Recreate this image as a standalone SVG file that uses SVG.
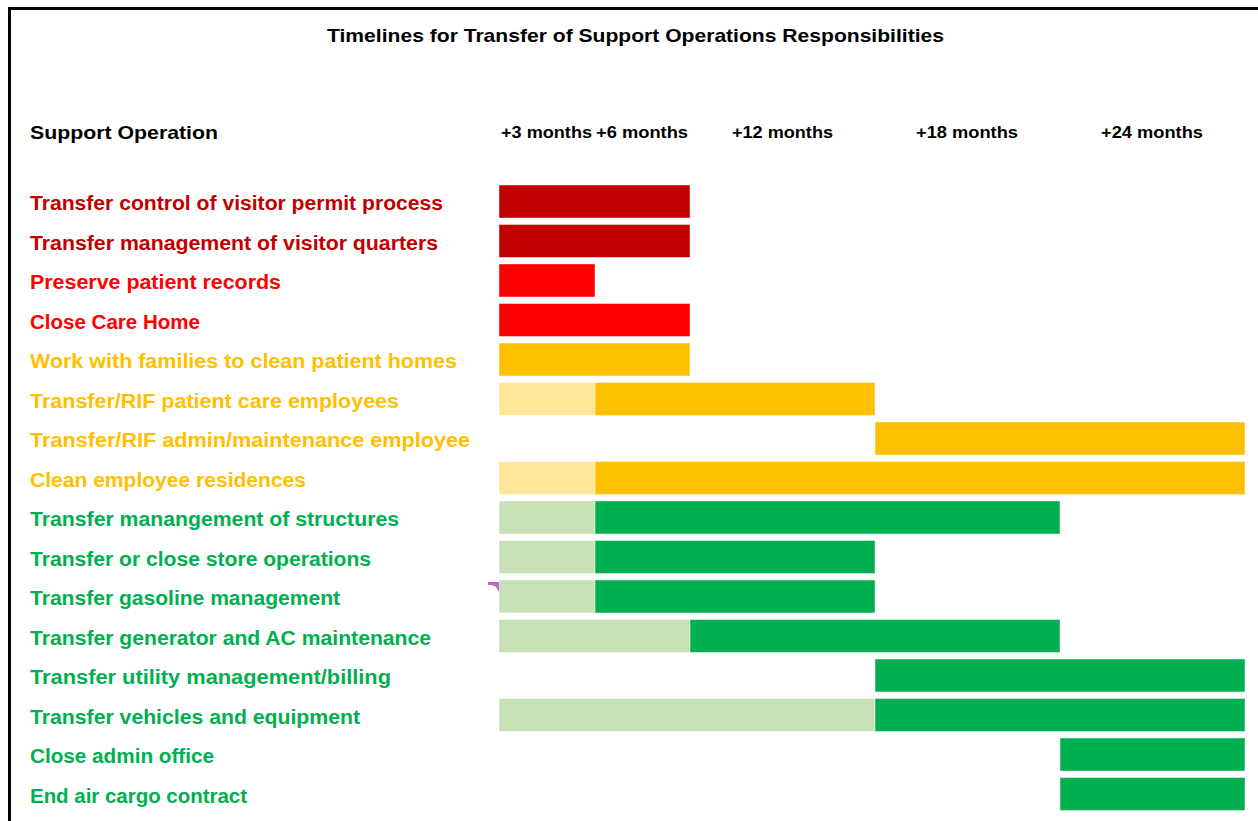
<svg xmlns="http://www.w3.org/2000/svg" width="1258" height="821" viewBox="0 0 1258 821">
<style>
text{font-family:"Liberation Sans",Arial,sans-serif;font-weight:bold}
.t{font-size:19px;fill:#000}
.h{font-size:16px;fill:#000}
.l{font-size:20px}
.dr{fill:#C00000}.r{fill:#FF0000}.y{fill:#FFC000}.g{fill:#00B050}
rect.b{stroke:#fff;stroke-opacity:0.45;stroke-width:1}
.bdr{fill:#C00000}.br{fill:#FF0000}.by{fill:#FFC000}.bly{fill:#FFE699}.bg{fill:#00B050}.blg{fill:#C8E0B5}
</style>
<rect x="0" y="0" width="1258" height="821" fill="#fff"/>
<g id="frame">
<line x1="9.5" y1="8.5" x2="1258" y2="8.5" stroke="#000" stroke-width="3"/>
<line x1="9.5" y1="7" x2="9.5" y2="821" stroke="#000" stroke-width="3"/>
</g>
<g id="header">
<text class="t" x="327" y="42" textLength="617" lengthAdjust="spacingAndGlyphs">Timelines for Transfer of Support Operations Responsibilities</text>
<text class="t" x="30" y="139" font-size="20" textLength="188" lengthAdjust="spacingAndGlyphs">Support Operation</text>
<text class="h" x="501" y="138" textLength="91" lengthAdjust="spacingAndGlyphs">+3 months</text>
<text class="h" x="596" y="138" textLength="92" lengthAdjust="spacingAndGlyphs">+6 months</text>
<text class="h" x="732" y="138" textLength="101" lengthAdjust="spacingAndGlyphs">+12 months</text>
<text class="h" x="916" y="138" textLength="102" lengthAdjust="spacingAndGlyphs">+18 months</text>
<text class="h" x="1101" y="138" textLength="102" lengthAdjust="spacingAndGlyphs">+24 months</text>
</g>
<g id="row0"><text class="l dr" x="30" y="210" textLength="413" lengthAdjust="spacingAndGlyphs">Transfer control of visitor permit process</text>
<rect class="b bdr" x="499" y="185" width="191" height="33"/></g>
<g id="row1"><text class="l dr" x="30" y="249.5" textLength="408" lengthAdjust="spacingAndGlyphs">Transfer management of visitor quarters</text>
<rect class="b bdr" x="499" y="224.5" width="191" height="33"/></g>
<g id="row2"><text class="l r" x="30" y="289" textLength="251" lengthAdjust="spacingAndGlyphs">Preserve patient records</text>
<rect class="b br" x="499" y="264" width="96" height="33"/></g>
<g id="row3"><text class="l r" x="30" y="328.5" textLength="170" lengthAdjust="spacingAndGlyphs">Close Care Home</text>
<rect class="b br" x="499" y="303.5" width="191" height="33"/></g>
<g id="row4"><text class="l y" x="30" y="368" textLength="427" lengthAdjust="spacingAndGlyphs">Work with families to clean patient homes</text>
<rect class="b by" x="499" y="343" width="191" height="33"/></g>
<g id="row5"><text class="l y" x="30" y="407.5" textLength="369" lengthAdjust="spacingAndGlyphs">Transfer/RIF patient care employees</text>
<rect class="b bly" x="499" y="382.5" width="96" height="33"/>
<rect class="b by" x="595" y="382.5" width="280" height="33"/></g>
<g id="row6"><text class="l y" x="30" y="447" textLength="440" lengthAdjust="spacingAndGlyphs">Transfer/RIF admin/maintenance employee</text>
<rect class="b by" x="875" y="422" width="370" height="33"/></g>
<g id="row7"><text class="l y" x="30" y="486.5" textLength="276" lengthAdjust="spacingAndGlyphs">Clean employee residences</text>
<rect class="b bly" x="499" y="461.5" width="96" height="33"/>
<rect class="b by" x="595" y="461.5" width="650" height="33"/></g>
<g id="row8"><text class="l g" x="30" y="526" textLength="369" lengthAdjust="spacingAndGlyphs">Transfer manangement of structures</text>
<rect class="b blg" x="499" y="501" width="96" height="33"/>
<rect class="b bg" x="595" y="501" width="465" height="33"/></g>
<g id="row9"><text class="l g" x="30" y="565.5" textLength="341" lengthAdjust="spacingAndGlyphs">Transfer or close store operations</text>
<rect class="b blg" x="499" y="540.5" width="96" height="33"/>
<rect class="b bg" x="595" y="540.5" width="280" height="33"/></g>
<g id="row10"><text class="l g" x="30" y="605" textLength="310" lengthAdjust="spacingAndGlyphs">Transfer gasoline management</text>
<rect class="b blg" x="499" y="580" width="96" height="33"/>
<rect class="b bg" x="595" y="580" width="280" height="33"/>
<polygon points="488,582 499,582 499,592 496,587 492,585 488,585" fill="#C066C8"/></g>
<g id="row11"><text class="l g" x="30" y="644.5" textLength="401" lengthAdjust="spacingAndGlyphs">Transfer generator and AC maintenance</text>
<rect class="b blg" x="499" y="619.5" width="191" height="33"/>
<rect class="b bg" x="690" y="619.5" width="370" height="33"/></g>
<g id="row12"><text class="l g" x="30" y="684" textLength="361" lengthAdjust="spacingAndGlyphs">Transfer utility management/billing</text>
<rect class="b bg" x="875" y="659" width="370" height="33"/></g>
<g id="row13"><text class="l g" x="30" y="723.5" textLength="330" lengthAdjust="spacingAndGlyphs">Transfer vehicles and equipment</text>
<rect class="b blg" x="499" y="698.5" width="376" height="33"/>
<rect class="b bg" x="875" y="698.5" width="370" height="33"/></g>
<g id="row14"><text class="l g" x="30" y="763" textLength="184" lengthAdjust="spacingAndGlyphs">Close admin office</text>
<rect class="b bg" x="1060" y="738" width="185" height="33"/></g>
<g id="row15"><text class="l g" x="30" y="802.5" textLength="217" lengthAdjust="spacingAndGlyphs">End air cargo contract</text>
<rect class="b bg" x="1060" y="777.5" width="185" height="33"/></g>
<g id="connectors"></g>
</svg>
